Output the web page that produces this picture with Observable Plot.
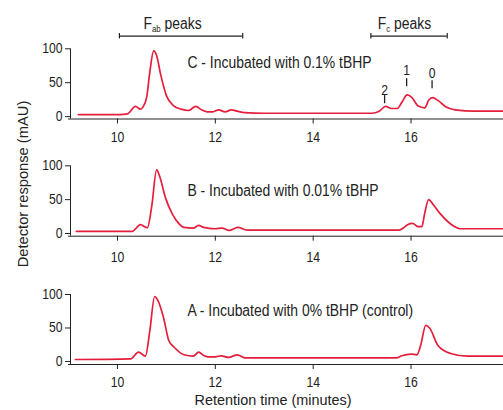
<!DOCTYPE html>
<html><head><meta charset="utf-8">
<script src="https://cdn.jsdelivr.net/npm/d3@7"></script>
<script src="https://cdn.jsdelivr.net/npm/@observablehq/plot@0.6"></script>
<style>
body{margin:0;background:#fff;}
#chart{position:relative;width:503px;height:410px;overflow:hidden;font-family:"Liberation Sans",Arial,sans-serif;color:#222;}
.panel{position:absolute;left:0;}
#ylab{position:absolute;left:22px;top:184px;line-height:15px;transform:translate(-50%,-50%) rotate(-90deg) scaleX(0.98);white-space:nowrap;font-size:15px;}
#xlab{position:absolute;left:273px;top:399px;line-height:15px;transform:translate(-50%,-50%) scaleX(0.96);font-size:15px;white-space:nowrap;}
</style></head>
<body>
<div id="chart">
  <div id="pC" class="panel" style="top:0px"></div>
  <div id="pB" class="panel" style="top:140px"></div>
  <div id="pA" class="panel" style="top:270px"></div>
  <div id="ylab">Detector response (mAU)</div>
  <div id="xlab">Retention time (minutes)</div>
</div>
<script>
const FONT = '"Liberation Sans",Arial,sans-serif';
const RED = "#e41e3c";
const INK = "#222";
const xDomain = [9.04, 17.89];
const xTicks = [10, 12, 14, 16];
const yTicks = [0, 50, 100];

// Panel C – 0.1% tBHP
const timeC = [9.2,10.05,10.2,10.37,10.47,10.52,10.6,10.66,10.74,10.8,10.88,11.0,11.15,11.3,11.45,11.6,11.72,11.84,11.95,12.07,12.2,12.33,12.45,12.6,13.0,15.2,15.35,15.48,15.6,15.72,15.82,15.92,16.02,16.14,16.28,16.36,16.44,16.55,16.7,16.9,17.3,17.89];
const mAUC  = [3,3,4,15,11,14,30,65,97,90,63,31,16,11,9,15,10,7,7,10,7,10,8,6,5,5,8,15,12,12,22,32,28,16,13,24,28,24,15,10,8,8];
// Panel B – 0.01% tBHP
const timeB = [9.16,10.3,10.47,10.61,10.7,10.8,10.86,10.98,11.12,11.25,11.36,11.55,11.66,11.76,11.84,12.0,12.14,12.28,12.46,12.65,13.0,15.75,15.86,15.93,16.03,16.15,16.22,16.28,16.36,16.45,16.6,16.87,17.0,17.89];
const mAUB  = [3,3,13,8.5,40,94,85,53,29,15,9,8,12,9,8,7,8,4.5,9,5,5,5,9,13,15,10,10,30,50,43,29,11,7,7];
// Panel A – 0% tBHP (control)
const timeA = [9.14,10.27,10.43,10.57,10.66,10.76,10.82,10.94,11.05,11.15,11.36,11.55,11.66,11.76,11.84,12.0,12.12,12.27,12.45,12.6,13.0,15.7,15.81,16.0,16.12,16.2,16.3,16.38,16.55,16.81,17.15,17.89];
const mAUA  = [3,4,14,8,45,97,92,66,31,22,10,8,14,9,7,7,8.5,6,10,5.5,5.5,5.5,8.5,11,10,25,54,50,24,12,8,8];

const panelLabels = [
  {panel: "C", t: 11.43, v: 79, text: "C - Incubated with 0.1% tBHP"},
  {panel: "B", t: 11.43, v: 63, text: "B - Incubated with 0.01% tBHP"},
  {panel: "A", t: 11.43, v: 76, text: "A - Incubated with 0% tBHP (control)"}
];
// Bracket annotations (minutes, mAU level)
const brackets = [
  {name: "Fab peaks", x1: 10.04, x2: 12.56, level: 118.6, labelT: 10.53, labelV: 137},
  {name: "Fc peaks",  x1: 15.18, x2: 16.74, level: 118.6, labelT: 15.32, labelV: 137}
];
// Fc peak markers in panel C
const fcPeaks = [
  {peak: "2", t: 15.46, from: 19, to: 31, labelV: 38},
  {peak: "1", t: 15.91, from: 44, to: 56, labelV: 68},
  {peak: "0", t: 16.43, from: 41, to: 53, labelV: 63}
];

function panel(el, {time, mAU, height, mt, mb, yMin, id, xPad = 8, extra = []}) {
  const data = time.map((t, i) => ({t, v: mAU[i]}));
  const lab = panelLabels.filter(d => d.panel === id);
  const p = Plot.plot({
    width: 503, height, marginLeft: 70, marginRight: 0, marginTop: mt, marginBottom: mb,
    style: {fontFamily: FONT, fontSize: "14px", background: "transparent", overflow: "visible", color: INK},
    x: {domain: xDomain, ticks: xTicks, tickSize: 5, tickPadding: xPad, label: null},
    y: {domain: [yMin, 100], ticks: yTicks, tickSize: 5, tickPadding: 3, label: null},
    marks: [
      Plot.ruleY([yMin], {x1: xDomain[0] - 0.04, x2: xDomain[1], stroke: INK}),
      Plot.ruleX([xDomain[0]], {y1: yMin, y2: 100, stroke: INK}),
      Plot.line(data, {x: "t", y: "v", stroke: RED, strokeWidth: 1.7, curve: "monotone-x"}),
      Plot.text(lab, {x: "t", y: "v", text: "text", textAnchor: "start", fontSize: 16, fill: INK}),
      ...extra
    ]
  });
  p.querySelectorAll("text").forEach(t => {
    const s = t.textContent;
    if (s === "Fab peaks" || s === "Fc peaks") {
      const sub = s === "Fab peaks" ? "ab" : "c";
      t.textContent = "";
      const ns = "http://www.w3.org/2000/svg";
      const a = document.createElementNS(ns, "tspan"); a.textContent = "F";
      const b = document.createElementNS(ns, "tspan"); b.textContent = sub;
      b.setAttribute("font-size", "9"); b.setAttribute("dy", "3");
      const c = document.createElementNS(ns, "tspan"); c.textContent = " peaks";
      c.setAttribute("dy", "-3");
      t.append(a, b, c);
    }
  });
  el.append(p);
  // condense glyphs horizontally (reference uses a condensed face)
  p.querySelectorAll("text").forEach(t => {
    const len = t.getComputedTextLength();
    if (len > 0) {
      t.setAttribute("textLength", (len * 0.87).toFixed(2));
      t.setAttribute("lengthAdjust", "spacingAndGlyphs");
    }
  });
}

panel(document.getElementById("pC"), {
  time: timeC, mAU: mAUC, height: 140, mt: 48.3, mb: 21.5, yMin: -3.5, id: "C",
  extra: [
    Plot.ruleY(brackets, {x1: "x1", x2: "x2", y: "level", stroke: INK, strokeWidth: 1.2}),
    Plot.ruleX(brackets, {x: "x1", y1: d => d.level - 4, y2: d => d.level + 4, stroke: INK, strokeWidth: 1.2}),
    Plot.ruleX(brackets, {x: "x2", y1: d => d.level - 4, y2: d => d.level + 4, stroke: INK, strokeWidth: 1.2}),
    Plot.text(brackets, {x: "labelT", y: "labelV", text: "name", textAnchor: "start", fontSize: 16, fill: INK}),
    Plot.ruleX(fcPeaks, {x: "t", y1: "from", y2: "to", stroke: INK, strokeWidth: 1.3}),
    Plot.text(fcPeaks, {x: "t", y: "labelV", text: "peak", fontSize: 14, fill: INK})
  ]
});
panel(document.getElementById("pB"), {time: timeB, mAU: mAUB, height: 130, mt: 25.3, mb: 34.3, yMin: -4, id: "B", xPad: 11});
panel(document.getElementById("pA"), {time: timeA, mAU: mAUA, height: 140, mt: 24, mb: 46, yMin: -4.5, id: "A"});
</script>
</body></html>
